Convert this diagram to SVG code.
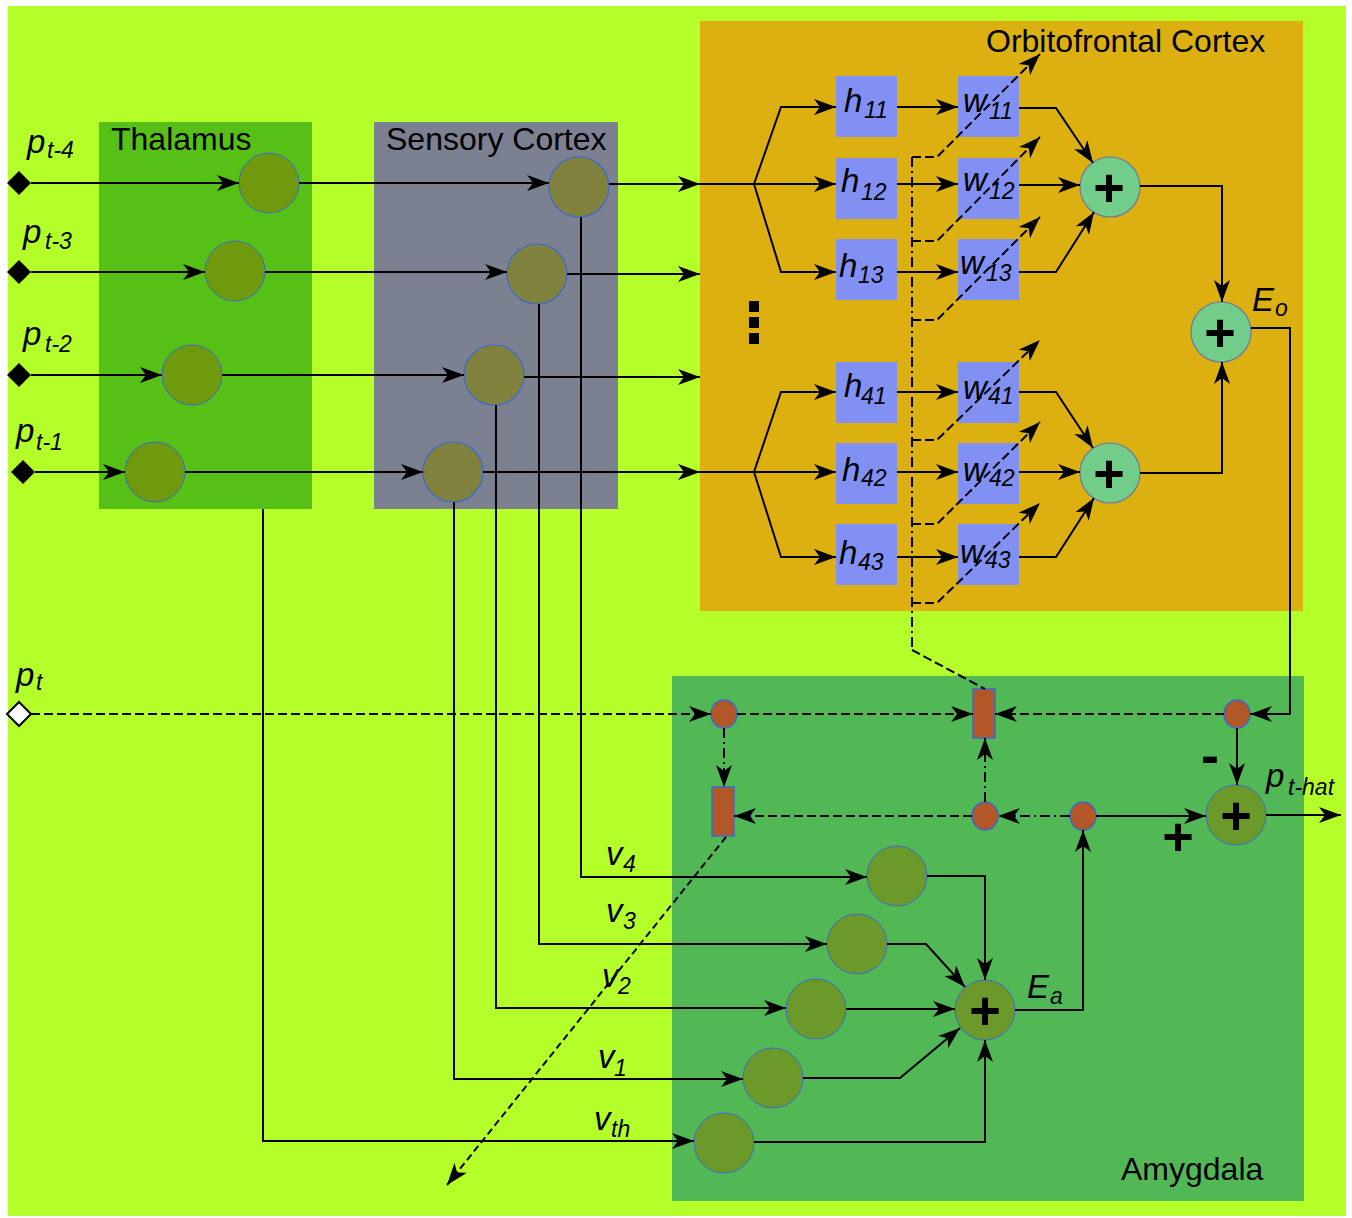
<svg xmlns="http://www.w3.org/2000/svg" width="1352" height="1218" viewBox="0 0 1352 1218">
<defs>
<marker id="ah" viewBox="0 0 22 16" refX="22" refY="8" markerWidth="22" markerHeight="16" markerUnits="userSpaceOnUse" orient="auto"><path d="M0,0 L22,8 L0,16 L6,8 Z" fill="#000"/></marker>
<style>
.ln{fill:none;stroke:#000;stroke-width:2}
.ar{marker-end:url(#ah)}
.da{stroke-dasharray:9,4}
.dd{stroke-dasharray:10,4,2,4}
.lbl{font-family:"Liberation Sans",Arial,sans-serif;font-size:32px;fill:#000}
.m{font-family:"Liberation Sans",Arial,sans-serif;font-style:italic;font-size:33px;fill:#000}
.s{font-size:23px}
.pl{font-family:"Liberation Sans",Arial,sans-serif;font-weight:bold;font-size:54px;text-anchor:middle;fill:#000}
.box{fill:#8290f4}
.nt{fill:#6f9a0d;stroke:#3a6ad0;stroke-width:1}
.ns{fill:#82823f;stroke:#3a6ad0;stroke-width:1.2}
.na{fill:#6c9a2a;stroke:#3a6ad0;stroke-width:1}
.so{fill:#72cd8a;stroke:#6a7aa0;stroke-width:1.2}
.od{fill:#b25728;stroke:#3a6ad0;stroke-width:1.5}
</style>
</defs>
<rect width="1352" height="1218" fill="#fff"/>
<rect x="8" y="6" width="1338" height="1210" fill="#b4ff2a"/>

<g id="thalamus">
<rect x="99" y="122" width="213" height="387" fill="#57c016"/>
<text class="lbl" x="111" y="150">Thalamus</text>
<circle class="nt" cx="269" cy="183" r="30"/>
<circle class="nt" cx="235" cy="271" r="30"/>
<circle class="nt" cx="192" cy="375" r="30"/>
<circle class="nt" cx="155" cy="472" r="30"/>
</g>

<g id="sensory-cortex">
<rect x="374" y="122" width="244" height="387" fill="#7c8191"/>
<text class="lbl" x="386" y="150">Sensory Cortex</text>
<circle class="ns" cx="579" cy="187" r="30"/>
<circle class="ns" cx="537" cy="274" r="30"/>
<circle class="ns" cx="494" cy="375" r="30"/>
<circle class="ns" cx="453" cy="472" r="30"/>
</g>

<g id="orbitofrontal-cortex">
<rect x="700" y="21" width="603" height="590" fill="#dcb010"/>
<text class="lbl" x="986" y="52">Orbitofrontal Cortex</text>
<rect x="749" y="301" width="10" height="11" fill="#000"/>
<rect x="749" y="317" width="10" height="11" fill="#000"/>
<rect x="749" y="333" width="10" height="11" fill="#000"/>
</g>

<g id="amygdala">
<rect x="672" y="676" width="632" height="525" fill="#52b856"/>
<text class="lbl" x="1121" y="1180">Amygdala</text>
</g>

<g id="inputs">
<polygon points="7,183 19,171 31,183 19,195" fill="#000"/>
<polygon points="7,272 19,260 31,272 19,284" fill="#000"/>
<polygon points="7,375 19,363 31,375 19,387" fill="#000"/>
<polygon points="11,472 23,460 35,472 23,484" fill="#000"/>
<polygon points="7,714 19,702 31,714 19,726" fill="#fff" stroke="#000" stroke-width="2"/>
<text class="m" x="27" y="153">p<tspan class="s" x="47" y="158">t-4</tspan></text>
<text class="m" x="23" y="243">p<tspan class="s" x="45" y="249">t-3</tspan></text>
<text class="m" x="23" y="345">p<tspan class="s" x="45" y="352">t-2</tspan></text>
<text class="m" x="16" y="442">p<tspan class="s" x="36" y="450">t-1</tspan></text>
<text class="m" x="16" y="686">p<tspan class="s" x="36" y="690">t</tspan></text>
</g>

<g id="h-nodes">
<rect class="box" x="836" y="76" width="61" height="61"/>
<rect class="box" x="836" y="158" width="61" height="61"/>
<rect class="box" x="836" y="239" width="61" height="61"/>
<rect class="box" x="836" y="362" width="61" height="61"/>
<rect class="box" x="836" y="443" width="61" height="61"/>
<rect class="box" x="836" y="524" width="61" height="61"/>
<text class="m" x="844" y="112">h<tspan class="s" x="864" y="118">11</tspan></text>
<text class="m" x="841" y="192">h<tspan class="s" x="861" y="200">12</tspan></text>
<text class="m" x="839" y="277">h<tspan class="s" x="858" y="283">13</tspan></text>
<text class="m" x="844" y="397">h<tspan class="s" x="861" y="404">41</tspan></text>
<text class="m" x="842" y="481">h<tspan class="s" x="861" y="486">42</tspan></text>
<text class="m" x="839" y="564">h<tspan class="s" x="858" y="570">43</tspan></text>
</g>

<g id="w-nodes">
<rect class="box" x="958" y="76" width="61" height="61"/>
<rect class="box" x="958" y="158" width="61" height="61"/>
<rect class="box" x="958" y="239" width="61" height="61"/>
<rect class="box" x="958" y="362" width="61" height="61"/>
<rect class="box" x="958" y="443" width="61" height="61"/>
<rect class="box" x="958" y="524" width="61" height="61"/>
<text class="m" x="963" y="112">w<tspan class="s" x="989" y="119">11</tspan></text>
<text class="m" x="963" y="191">w<tspan class="s" x="989" y="199">12</tspan></text>
<text class="m" x="960" y="274">w<tspan class="s" x="986" y="281">13</tspan></text>
<text class="m" x="963" y="399">w<tspan class="s" x="988" y="404">41</tspan></text>
<text class="m" x="963" y="481">w<tspan class="s" x="989" y="486">42</tspan></text>
<text class="m" x="960" y="563">w<tspan class="s" x="985" y="568">43</tspan></text>
</g>

<g id="ofc-sums">
<circle class="so" cx="1110" cy="187" r="30"/>
<text class="pl" x="1109" y="206">+</text>
<circle class="so" cx="1110" cy="473" r="30"/>
<text class="pl" x="1109" y="492">+</text>
<circle class="so" cx="1221" cy="332" r="30"/>
<text class="pl" x="1220" y="351">+</text>
<text class="m" x="1252" y="311">E<tspan class="s" x="1275" y="316">o</tspan></text>
</g>

<g id="amygdala-nodes">
<circle class="na" cx="897" cy="876" r="30"/>
<circle class="na" cx="857" cy="944" r="30"/>
<circle class="na" cx="816" cy="1009" r="30"/>
<circle class="na" cx="773" cy="1078" r="30"/>
<circle class="na" cx="724" cy="1143" r="30"/>
<circle class="na" cx="985" cy="1010" r="30"/>
<text class="pl" x="985" y="1029">+</text>
<text class="m" x="1027" y="998">E<tspan class="s" x="1050" y="1004">a</tspan></text>
<circle class="na" cx="1236" cy="815" r="30"/>
<text class="pl" x="1236" y="834">+</text>
<text class="pl" x="1210" y="774" font-size="46" font-weight="normal">-</text>
<text class="pl" x="1178" y="855" font-size="42">+</text>
<text class="m" x="1266" y="787">p<tspan class="s" x="1288" y="795">t-hat</tspan></text>
<text class="m" x="606" y="865">v<tspan class="s" x="623" y="872">4</tspan></text>
<text class="m" x="606" y="922">v<tspan class="s" x="623" y="929">3</tspan></text>
<text class="m" x="602" y="987">v<tspan class="s" x="618" y="994">2</tspan></text>
<text class="m" x="598" y="1068">v<tspan class="s" x="614" y="1076">1</tspan></text>
<text class="m" x="594" y="1130">v<tspan class="s" x="611" y="1137">th</tspan></text>
<ellipse class="od" cx="724" cy="714" rx="13" ry="14"/>
<ellipse class="od" cx="1237" cy="714" rx="13" ry="14"/>
<ellipse class="od" cx="985" cy="816" rx="13" ry="14"/>
<ellipse class="od" cx="1083" cy="816" rx="13" ry="14"/>
<rect class="od" x="973" y="689" width="22" height="49"/>
<rect class="od" x="712" y="787" width="22" height="49"/>
</g>

<g id="connectors">
<path class="ln ar" d="M31,183 H239"/>
<path class="ln ar" d="M31,272 H205"/>
<path class="ln ar" d="M31,375 H162"/>
<path class="ln ar" d="M35,472 H125"/>
<path class="ln ar" d="M299,183 H549"/>
<path class="ln ar" d="M265,272 H507"/>
<path class="ln ar" d="M222,375 H464"/>
<path class="ln ar" d="M185,472 H423"/>
<path class="ln ar" d="M609,184 H700"/>
<path class="ln ar" d="M567,274 H700"/>
<path class="ln ar" d="M524,377 H700"/>
<path class="ln ar" d="M483,472 H700"/>
<path class="ln ar" d="M754,184 L781,107 H836"/>
<path class="ln ar" d="M700,184 H836"/>
<path class="ln ar" d="M754,184 L781,272 H836"/>
<path class="ln ar" d="M754,472 L781,392 H836"/>
<path class="ln ar" d="M700,472 H836"/>
<path class="ln ar" d="M754,472 L781,557 H836"/>
<path class="ln ar" d="M897,107 H958"/>
<path class="ln ar" d="M897,184 H958"/>
<path class="ln ar" d="M897,272 H958"/>
<path class="ln ar" d="M897,392 H958"/>
<path class="ln ar" d="M897,472 H958"/>
<path class="ln ar" d="M897,557 H958"/>
<path class="ln ar" d="M1019,108 H1056 L1093,163"/>
<path class="ln ar" d="M1019,185 H1080"/>
<path class="ln ar" d="M1019,272 H1056 L1094,212"/>
<path class="ln ar" d="M1019,392 H1056 L1093,448"/>
<path class="ln ar" d="M1019,472 H1080"/>
<path class="ln ar" d="M1019,557 H1056 L1094,498"/>
<path class="ln ar" d="M1140,186 H1222 V302"/>
<path class="ln ar" d="M1140,473 H1222 V362"/>
<path class="ln ar" d="M1251,328 H1290 V714 H1250"/>
<path class="ln ar" d="M581,217 V877 H867"/>
<path class="ln ar" d="M539,304 V944 H827"/>
<path class="ln ar" d="M496,405 V1008 H786"/>
<path class="ln ar" d="M454,502 V1079 H743"/>
<path class="ln ar" d="M263,509 V1141 H694"/>
<path class="ln ar" d="M927,876 H985 V980"/>
<path class="ln ar" d="M887,944 H926 L965,987"/>
<path class="ln ar" d="M846,1009 H955"/>
<path class="ln ar" d="M803,1078 H900 L960,1028"/>
<path class="ln ar" d="M754,1142 H985 V1040"/>
<path class="ln ar" d="M1015,1010 H1083 V830"/>
<path class="ln ar" d="M1096,816 H1206"/>
<path class="ln ar" d="M1237,728 V785"/>
<path class="ln ar" d="M1266,815 H1341"/>
<path class="ln da ar" d="M31,714 H711"/>
<path class="ln da ar" d="M737,714 H973"/>
<path class="ln da ar" d="M1224,714 H995"/>
<path class="ln da ar" d="M972,816 H734"/>
<path class="ln ar" stroke-dasharray="7,4" d="M726,837 L447,1185"/>
<path class="ln da" d="M912,650 L985,689"/>
<path class="ln dd" d="M912,157 V650"/>
<path class="ln da ar" d="M912,157 H937 L1040,54"/>
<path class="ln da ar" d="M912,241 H937 L1040,137"/>
<path class="ln da ar" d="M912,320 H937 L1040,217"/>
<path class="ln da ar" d="M912,440 H937 L1040,340"/>
<path class="ln da ar" d="M912,524 H937 L1040,422"/>
<path class="ln da ar" d="M912,603 H937 L1040,503"/>
<path class="ln dd ar" d="M724,728 V787"/>
<path class="ln dd ar" d="M985,802 V738"/>
<path class="ln dd ar" d="M1070,816 H998"/>
</g>
</svg>
